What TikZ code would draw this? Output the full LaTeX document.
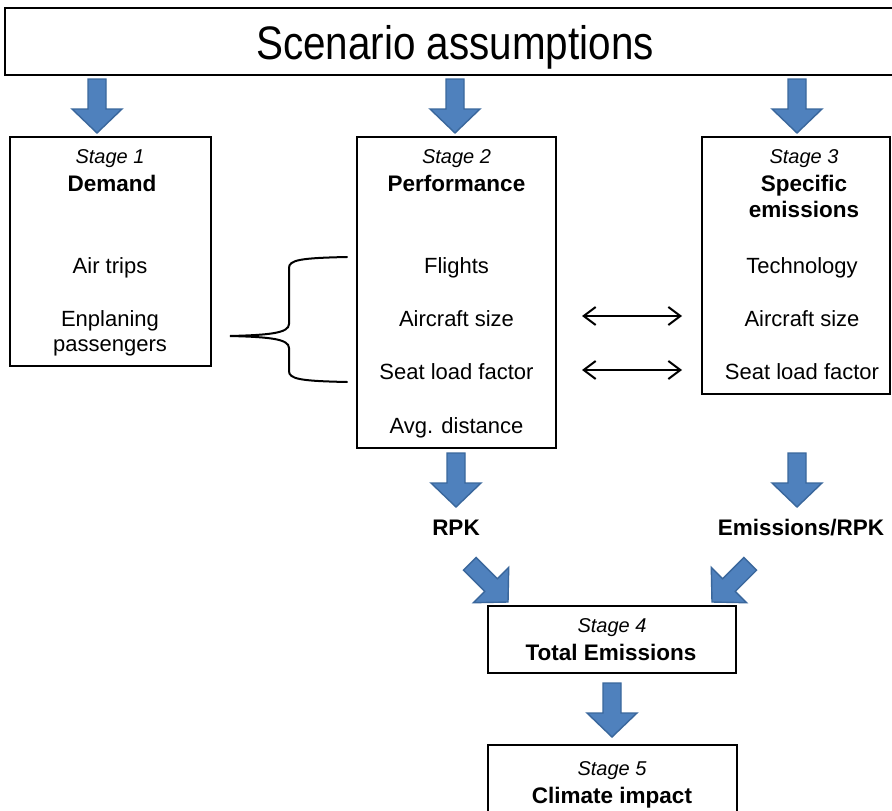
\documentclass[tikz,border=0pt]{standalone}
\usepackage{fontspec}
\setmainfont{Liberation Sans}
\usetikzlibrary{arrows.meta}
\definecolor{arrowfill}{HTML}{4F81BD}
\definecolor{arrowline}{HTML}{3A679C}
\newcommand{\blockarrowat}[3]{%
  \begin{scope}[shift={(#1,#2)},rotate=#3]
    \filldraw[blockarr] (-9,-54) -- (9,-54) -- (9,-24) -- (25,-24) -- (0,0) -- (-25,-24) -- (-9,-24) -- cycle;
  \end{scope}}
\begin{document}
\begin{tikzpicture}[x=1pt,y=-1pt,
  stagebox/.style={draw=black,line width=1.8pt,rectangle,inner sep=0pt,fill=white},
  blockarr/.style={fill=arrowfill,draw=arrowline,line width=1.4pt,line join=miter},
  txt/.style={inner sep=0pt,anchor=base,font=\fontsize{22}{26}\selectfont},
  btxt/.style={inner sep=0pt,anchor=base,font=\fontsize{22.5}{26}\selectfont\bfseries},
  itxt/.style={inner sep=0pt,anchor=base,font=\fontsize{20}{24}\selectfont\itshape},
  dblarrow/.style={line width=2pt,{Straight Barb[length=12pt,width=18pt,line width=2pt]}-{Straight Barb[length=12pt,width=18pt,line width=2pt]}},
  bracepath/.style={line width=2pt,line cap=round}
]
\useasboundingbox (0,0) rectangle (892,811);
\clip (0,0) rectangle (892,811);
\fill[white] (0,0) rectangle (892,811);

% top box
\node[stagebox,minimum width=895pt,minimum height=67pt,line width=2.2pt] (top) at (452.5,41.5) {};
\node[inner sep=0pt,anchor=base,font=\fontsize{47}{50}\selectfont] (toptxt) at (455,59) {\scalebox{0.86}[1]{Scenario assumptions}};

% stage boxes
\node[stagebox,minimum width=201pt,minimum height=229pt] (s1) at (110.5,251.5) {};
\node[stagebox,minimum width=199pt,minimum height=311pt] (s2) at (456.5,292.5) {};
\node[stagebox,minimum width=188pt,minimum height=257pt] (s3) at (796,265.5) {};
\node[stagebox,minimum width=248pt,minimum height=67pt] (s4) at (612,639.5) {};
\node[stagebox,minimum width=249pt,minimum height=85pt] (s5) at (612.5,787.5) {};

% stage 1 texts
\node[itxt] (s1a) at (110,163) {Stage 1};
\node[btxt] (s1b) at (112,191) {Demand};
\node[txt] (s1c) at (110,273) {Air trips};
\node[txt] (s1d) at (110,326) {Enplaning};
\node[txt] (s1e) at (110,351) {passengers};

% stage 2 texts
\node[itxt] (s2a) at (456.5,163) {Stage 2};
\node[btxt] (s2b) at (456.5,191) {Performance};
\node[txt] (s2c) at (456.5,273) {Flights};
\node[txt] (s2d) at (456.5,326) {Aircraft size};
\node[txt] (s2e) at (456.5,379) {Seat load factor};
\node[txt] (s2f) at (456.5,433) {Avg. distance};

% stage 3 texts
\node[itxt] (s3a) at (804,163) {Stage 3};
\node[btxt] (s3b) at (804,191) {Specific};
\node[btxt] (s3c) at (804,217) {emissions};
\node[txt] (s3d) at (802,273) {Technology};
\node[txt] (s3e) at (802,326) {Aircraft size};
\node[txt] (s3f) at (802,379) {Seat load factor};

% stage 4 and 5 texts
\node[itxt] (s4a) at (612,632) {Stage 4};
\node[btxt] (s4b) at (611,660) {Total Emissions};
\node[itxt] (s5a) at (612,775) {Stage 5};
\node[btxt] (s5b) at (612,803) {Climate impact};

% labels
\node[btxt] (rpk) at (456,535) {RPK};
\node[btxt] (erpk) at (801,535) {Emissions/RPK};

% block arrows
\blockarrowat{97}{133}{0}
\blockarrowat{455}{133}{0}
\blockarrowat{797}{133}{0}
\blockarrowat{456}{507}{0}
\blockarrowat{797}{507}{0}
\blockarrowat{508}{602}{45}
\blockarrowat{712}{602}{-45}
\blockarrowat{612}{737}{0}

% double arrows
\coordinate (d1l) at (582,316);
\coordinate (d1r) at (682,316);
\coordinate (d2l) at (582,370);
\coordinate (d2r) at (682,370);
\draw[dblarrow] (d1l) -- (d1r);
\draw[dblarrow] (d2l) -- (d2r);

% brace
\coordinate (btop) at (347,257);
\coordinate (btip) at (230,336);
\coordinate (bbot) at (347,382);
\draw[bracepath] (btop) .. controls (300,258) and (289,260) .. (289,268)
  -- (289,324) .. controls (289,333) and (270,335) .. (btip)
  .. controls (270,337) and (289,339) .. (289,348)
  -- (289,371) .. controls (289,379) and (300,381) .. (bbot);
\end{tikzpicture}
\end{document}
